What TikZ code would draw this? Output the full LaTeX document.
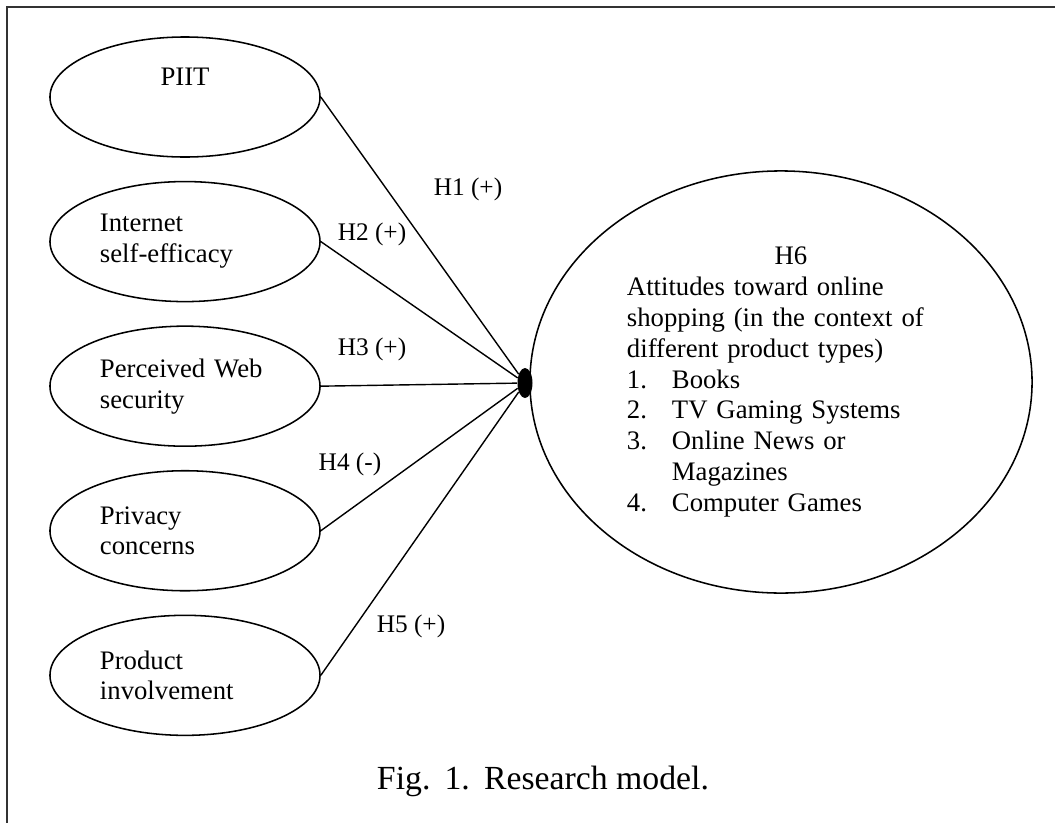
\documentclass[tikz,border=0pt]{standalone}
\usepackage{fontspec}
\setmainfont{Liberation Serif}
\usetikzlibrary{positioning}
\usetikzlibrary{shapes.geometric}

\begin{document}
\begin{tikzpicture}[
    x=0.025cm, y=-0.025cm,
    node distance=0.575cm,
    factor/.style={
        draw, ellipse, line width=1.1pt,
        minimum width=6.75cm,
        minimum height=3cm,
        inner sep=0pt,
        text width=4.25cm,
        align=left,
        font=\fontsize{19}{22}\selectfont
    },
    hyp/.style={font=\fontsize{18}{22}\selectfont},
    link/.style={line width=1pt}
]
\useasboundingbox (0,0) rectangle (1055,823);
% page frame, top and left edge only
\draw[line width=1.4pt, black!80] (1055,7) -- (7,7) -- (7,823);

% antecedents
\node[factor, align=center] (piit) at (185,97) {PIIT\\\strut};
\node[factor, below=of piit] (selfeff) {Internet\\self-efficacy};
\node[factor, below=of selfeff] (websec) {Perceived Web\\security};
\node[factor, below=of websec] (privacy) {Privacy\\concerns};
\node[factor, below=of privacy] (involve) {Product\\involvement};

% outcome
\node[draw, ellipse, line width=1.1pt,
      minimum width=12.55cm, minimum height=10.55cm,
      inner sep=0pt, text width=7.7cm, align=left,
      font=\fontsize{19}{22}\selectfont] (attitude) at (781,382) {
    \hspace*{105pt}H6\\
    Attitudes toward online\\
    shopping (in the context of\\
    different product types)\\
    \makebox[32pt][l]{1.}Books\\
    \makebox[32pt][l]{2.}TV Gaming Systems\\
    \makebox[32pt][l]{3.}Online News or\\
    \hspace*{32pt}Magazines\\
    \makebox[32pt][l]{4.}Computer Games
};
\node[ellipse, fill=black, inner sep=0pt,
      minimum width=0.375cm, minimum height=0.75cm] (hub) at (525,383) {};

\draw[link] (piit.east) -- (hub);
\draw[link] (selfeff.east) -- (hub);
\draw[link] (websec.east) -- (hub);
\draw[link] (privacy.east) -- (hub);
\draw[link] (involve.east) -- (hub);

\node[hyp] (h1) at (468,189) {H1 (+)};
\node[hyp] (h2) at (372,234) {H2 (+)};
\node[hyp] (h3) at (372,349) {H3 (+)};
\node[hyp] (h4) at (350,464) {H4 (-)};
\node[hyp] (h5) at (411,626) {H5 (+)};

\node[font=\fontsize{24}{28}\selectfont] (caption) at (543,781)
    {Fig.\hspace{0.42em}1.\hspace{0.42em}Research model.};
\end{tikzpicture}
\end{document}
